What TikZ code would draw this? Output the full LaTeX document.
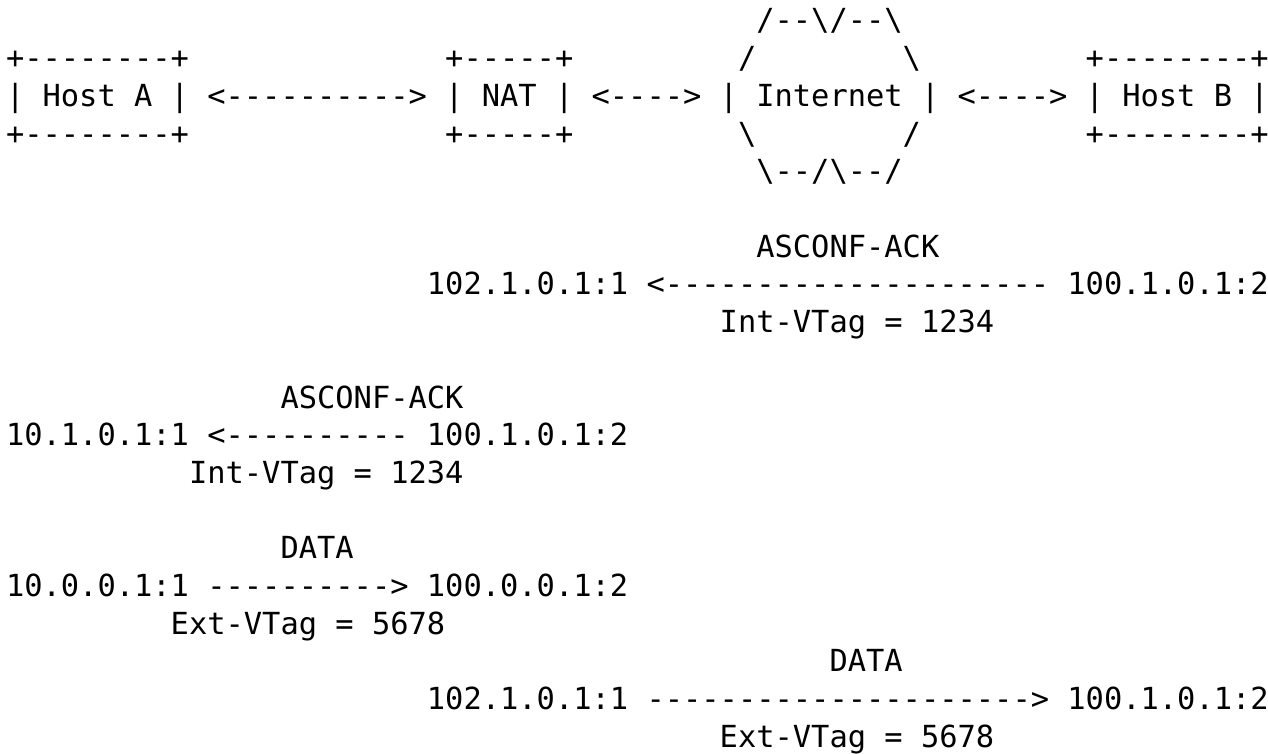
\documentclass[tikz,border=0pt]{standalone}
\usepackage{fontspec}
\setmonofont{DejaVu Sans Mono}
\usepackage{tikz}
\tikzstyle{ascii}=[anchor=base west, inner sep=0pt, outer sep=0pt, font=\ttfamily\fontsize{15.2pt}{18pt}\selectfont]
\newcommand{\bs}{\textbackslash}

\begin{document}
\begin{tikzpicture}[x=9.15pt, y=-18.85pt]
                \useasboundingbox (-3pt, 15.5pt) rectangle (631pt, -361.5pt);
                % topology
                \node[ascii] (cloudtop)  at (41, 0) {/--\bs/--\bs};
                \node[ascii] (hostAtop)  at ( 0, 1) {+--------+};
                \node[ascii] (nattop)    at (24, 1) {+-----+};
                \node[ascii] (cloudnw)   at (40, 1) {/};
                \node[ascii] (cloudne)   at (49, 1) {\bs};
                \node[ascii] (hostBtop)  at (59, 1) {+--------+};
                \node[ascii] (hostA)     at ( 0, 2) {| Host A |};
                \node[ascii] (linkAN)    at (11, 2) {<---------->};
                \node[ascii] (nat)       at (24, 2) {| NAT |};
                \node[ascii] (linkNI)    at (32, 2) {<---->};
                \node[ascii] (internet)  at (39, 2) {| Internet |};
                \node[ascii] (linkIB)    at (52, 2) {<---->};
                \node[ascii] (hostB)     at (59, 2) {| Host B |};
                \node[ascii] (hostAbot)  at ( 0, 3) {+--------+};
                \node[ascii] (natbot)    at (24, 3) {+-----+};
                \node[ascii] (cloudsw)   at (40, 3) {\bs};
                \node[ascii] (cloudse)   at (49, 3) {/};
                \node[ascii] (hostBbot)  at (59, 3) {+--------+};
                \node[ascii] (cloudbot)  at (41, 4) {\bs--/\bs--/};
                % ASCONF-ACK, Host B to NAT
                \node[ascii] (ack1)      at (41, 6) {ASCONF-ACK};
                \node[ascii] (ack1dst)   at (23, 7) {102.1.0.1:1};
                \node[ascii] (ack1arr)   at (35, 7) {<---------------------};
                \node[ascii] (ack1src)   at (58, 7) {100.1.0.1:2};
                \node[ascii] (ack1tag)   at (39, 8) {Int-VTag = 1234};
                % ASCONF-ACK, NAT to Host A
                \node[ascii] (ack2)      at (15,10) {ASCONF-ACK};
                \node[ascii] (ack2dst)   at ( 0,11) {10.1.0.1:1};
                \node[ascii] (ack2arr)   at (11,11) {<----------};
                \node[ascii] (ack2src)   at (23,11) {100.1.0.1:2};
                \node[ascii] (ack2tag)   at (10,12) {Int-VTag = 1234};
                % DATA, Host A to NAT
                \node[ascii] (data1)     at (15,14) {DATA};
                \node[ascii] (data1src)  at ( 0,15) {10.0.0.1:1};
                \node[ascii] (data1arr)  at (11,15) {---------->};
                \node[ascii] (data1dst)  at (23,15) {100.0.0.1:2};
                \node[ascii] (data1tag)  at ( 9,16) {Ext-VTag = 5678};
                % DATA, NAT to Host B
                \node[ascii] (data2)     at (45,17) {DATA};
                \node[ascii] (data2src)  at (23,18) {102.1.0.1:1};
                \node[ascii] (data2arr)  at (35,18) {--------------------->};
                \node[ascii] (data2dst)  at (58,18) {100.1.0.1:2};
                \node[ascii] (data2tag)  at (39,19) {Ext-VTag = 5678};
            \end{tikzpicture}
\end{document}
